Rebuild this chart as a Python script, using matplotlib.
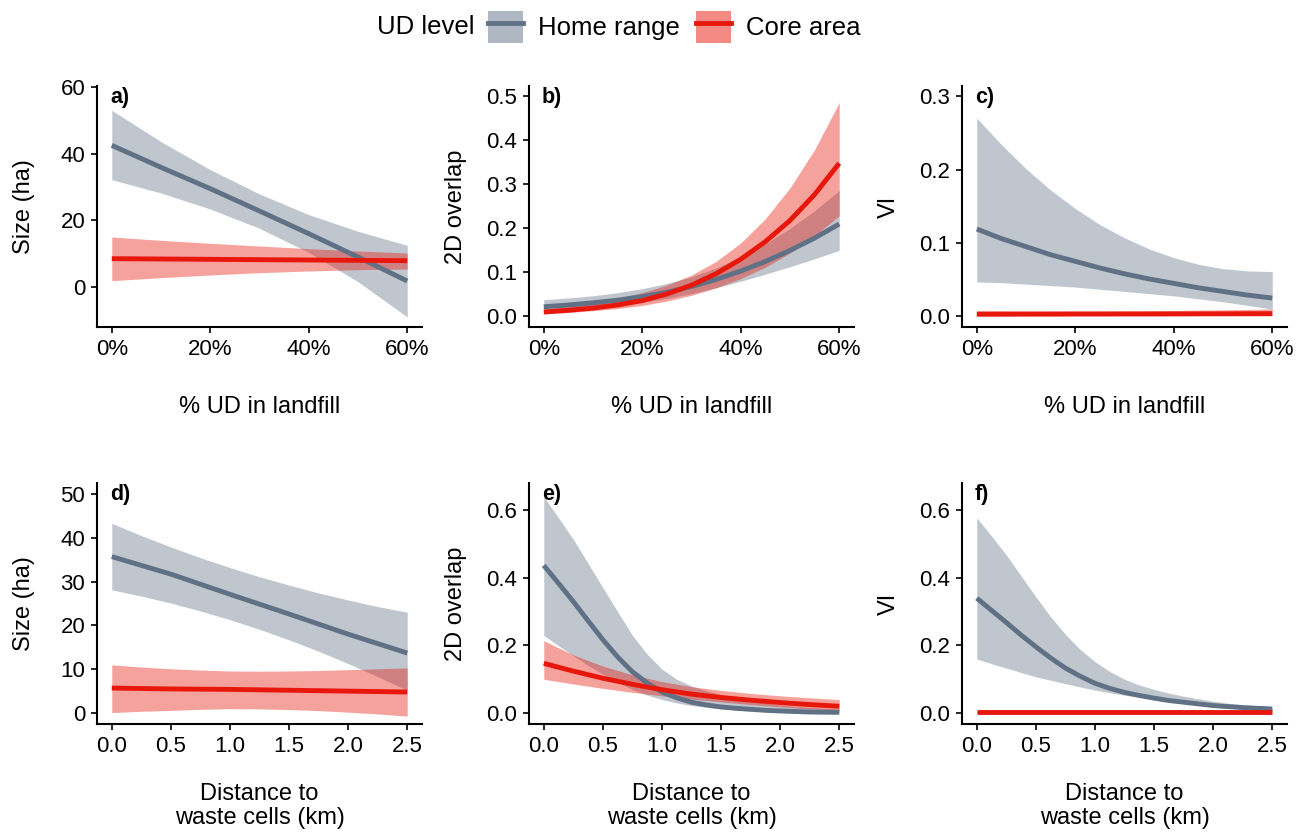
import matplotlib
matplotlib.use('Agg')
import matplotlib.pyplot as plt
from matplotlib.patches import Patch
from matplotlib.lines import Line2D
from matplotlib.ticker import FuncFormatter

plt.rcParams['font.family'] = ['Liberation Sans', 'DejaVu Sans']

# ---------------- data ----------------
series_names = ['Home range', 'Core area']
legend_title = 'UD level'

# x grids
udpct7 = [0, 10, 20, 30, 40, 50, 60]
udpct13 = [0, 5, 10, 15, 20, 25, 30, 35, 40, 45, 50, 55, 60]
dist11 = [0.0, 0.25, 0.5, 0.75, 1.0, 1.25, 1.5, 1.75, 2.0, 2.25, 2.5]
dist21 = [0.0, 0.125, 0.25, 0.375, 0.5, 0.625, 0.75, 0.875, 1.0, 1.125, 1.25,
          1.375, 1.5, 1.625, 1.75, 1.875, 2.0, 2.125, 2.25, 2.375, 2.5]

# a) Size vs % UD in landfill
a_home = [42.5, 35.9, 29.5, 22.8, 16.0, 9.0, 1.8]
a_home_hi = [53.0, 43.6, 35.2, 27.9, 21.7, 16.7, 12.5]
a_home_lo = [32.2, 28.2, 23.4, 17.6, 10.4, 1.6, -9.0]
a_core = [8.5, 8.4, 8.3, 8.2, 8.1, 8.0, 7.9]
a_core_hi = [15.0, 14.0, 13.1, 12.3, 11.5, 10.8, 10.2]
a_core_lo = [1.9, 2.8, 3.6, 4.3, 4.8, 5.2, 5.4]

# b) 2D overlap vs % UD in landfill
b_home = [0.022, 0.026, 0.031, 0.037, 0.045, 0.055, 0.068, 0.084, 0.103, 0.125, 0.150, 0.178, 0.210]
b_home_hi = [0.038, 0.042, 0.047, 0.054, 0.063, 0.075, 0.090, 0.110, 0.135, 0.165, 0.200, 0.240, 0.286]
b_home_lo = [0.013, 0.016, 0.020, 0.025, 0.032, 0.041, 0.052, 0.065, 0.080, 0.096, 0.113, 0.131, 0.150]
b_core = [0.010, 0.014, 0.019, 0.026, 0.036, 0.051, 0.071, 0.097, 0.130, 0.170, 0.218, 0.277, 0.348]
b_core_hi = [0.017, 0.023, 0.031, 0.041, 0.054, 0.071, 0.094, 0.125, 0.167, 0.222, 0.292, 0.379, 0.486]
b_core_lo = [0.006, 0.009, 0.013, 0.018, 0.025, 0.035, 0.048, 0.065, 0.086, 0.112, 0.144, 0.183, 0.229]

# c) VI vs % UD in landfill
c_home = [0.119, 0.106, 0.095, 0.084, 0.075, 0.066, 0.058, 0.051, 0.045, 0.039, 0.034, 0.029, 0.025]
c_home_hi = [0.270, 0.234, 0.201, 0.172, 0.147, 0.125, 0.107, 0.092, 0.080, 0.071, 0.065, 0.062, 0.061]
c_home_lo = [0.047, 0.046, 0.044, 0.042, 0.040, 0.037, 0.034, 0.031, 0.028, 0.024, 0.020, 0.015, 0.010]
c_core = [0.0030, 0.0030, 0.0031, 0.0031, 0.0032, 0.0032, 0.0033, 0.0033, 0.0034, 0.0035, 0.0036, 0.0037, 0.0038]
c_core_hi = [0.0080, 0.0079, 0.0078, 0.0078, 0.0077, 0.0077, 0.0078, 0.0079, 0.0082, 0.0085, 0.0090, 0.0096, 0.0102]
c_core_lo = [0.0010, 0.0011, 0.0012, 0.0012, 0.0013, 0.0013, 0.0013, 0.0013, 0.0012, 0.0011, 0.0010, 0.0009, 0.0008]

# d) Size vs distance to waste cells
d_home = [35.7, 33.7, 31.7, 29.4, 27.1, 24.85, 22.6, 20.3, 18.0, 15.85, 13.7]
d_home_hi = [43.3, 40.5, 37.9, 35.45, 33.2, 31.1, 29.2, 27.4, 25.8, 24.3, 23.0]
d_home_lo = [28.1, 26.7, 25.1, 23.3, 21.3, 19.1, 16.7, 14.1, 11.3, 8.3, 5.2]
d_core = [5.7, 5.6, 5.5, 5.45, 5.4, 5.3, 5.2, 5.1, 5.0, 4.9, 4.8]
d_core_hi = [11.0, 10.5, 10.1, 9.8, 9.6, 9.55, 9.6, 9.7, 9.9, 10.1, 10.3]
d_core_lo = [0.1, 0.4, 0.6, 0.85, 1.0, 0.95, 0.8, 0.55, 0.2, -0.2, -0.7]

# e) 2D overlap vs distance to waste cells
e_home = [0.437, 0.384, 0.330, 0.273, 0.217, 0.166, 0.122, 0.089, 0.062, 0.045, 0.032,
          0.024, 0.018, 0.014, 0.011, 0.008, 0.006, 0.0045, 0.003, 0.0025, 0.002]
e_home_hi = [0.640, 0.578, 0.514, 0.443, 0.371, 0.300, 0.230, 0.174, 0.130, 0.100, 0.080,
             0.066, 0.055, 0.045, 0.036, 0.029, 0.024, 0.020, 0.017, 0.014, 0.012]
e_home_lo = [0.230, 0.199, 0.170, 0.141, 0.115, 0.091, 0.070, 0.053, 0.040, 0.030, 0.022,
             0.017, 0.012, 0.009, 0.006, 0.0045, 0.003, 0.002, 0.0015, 0.001, 0.0005]
e_core = [0.147, 0.124, 0.103, 0.085, 0.069, 0.056, 0.046, 0.038, 0.031, 0.025, 0.020]
e_core_hi = [0.214, 0.172, 0.139, 0.113, 0.093, 0.078, 0.067, 0.058, 0.051, 0.045, 0.040]
e_core_lo = [0.100, 0.086, 0.073, 0.061, 0.051, 0.041, 0.033, 0.025, 0.018, 0.012, 0.008]

# f) VI vs distance to waste cells
f_home = [0.340, 0.304, 0.268, 0.231, 0.196, 0.163, 0.133, 0.109, 0.088, 0.073, 0.061,
          0.052, 0.044, 0.037, 0.032, 0.027, 0.022, 0.019, 0.016, 0.014, 0.012]
f_home_hi = [0.578, 0.524, 0.468, 0.406, 0.344, 0.285, 0.233, 0.188, 0.152, 0.123, 0.100,
             0.083, 0.070, 0.059, 0.050, 0.042, 0.035, 0.029, 0.025, 0.021, 0.018]
f_home_lo = [0.160, 0.146, 0.133, 0.120, 0.107, 0.097, 0.087, 0.077, 0.068, 0.060, 0.053,
             0.047, 0.041, 0.035, 0.029, 0.024, 0.019, 0.015, 0.012, 0.010, 0.008]
f_core = [0.002, 0.002, 0.002, 0.002, 0.002, 0.002, 0.002, 0.002, 0.002, 0.002, 0.002]
f_core_hi = [0.0035, 0.0035, 0.0035, 0.0035, 0.0035, 0.0035, 0.0035, 0.0035, 0.0035, 0.0035, 0.0035]
f_core_lo = [0.0008, 0.0008, 0.0008, 0.0008, 0.0008, 0.0008, 0.0008, 0.0008, 0.0008, 0.0008, 0.0008]

# axis ticks / labels
pct_ticks = [0, 20, 40, 60]
dist_ticks = [0.0, 0.5, 1.0, 1.5, 2.0, 2.5]
size_ticks_a = [0, 20, 40, 60]
overlap_ticks_b = [0.0, 0.1, 0.2, 0.3, 0.4, 0.5]
vi_ticks_c = [0.0, 0.1, 0.2, 0.3]
size_ticks_d = [0, 10, 20, 30, 40, 50]
overlap_ticks_e = [0.0, 0.2, 0.4, 0.6]
vi_ticks_f = [0.0, 0.2, 0.4, 0.6]
tags = ['a)', 'b)', 'c)', 'd)', 'e)', 'f)']
xlab_top = '% UD in landfill'
xlab_bottom = 'Distance to\nwaste cells (km)'
ylab_size = 'Size (ha)'
ylab_overlap = '2D overlap'
ylab_vi = 'VI'

# ---------------- style ----------------
home_col = '#607186'
core_col = '#E8170B'
band_alpha = 0.4
W, H = 1309, 832

fig = plt.figure(figsize=(W / 100, H / 100), dpi=100)

col_lefts = [97, 529, 962]
col_width = 325
row_tops = [86, 483]
row_height = 241

panels = [
    (udpct7, a_home, a_home_lo, a_home_hi, udpct7, a_core, a_core_lo, a_core_hi,
     (-3, 63), (-12.0, 60.3), pct_ticks, size_ticks_a, ylab_size, 'pct', '{:.0f}'),
    (udpct13, b_home, b_home_lo, b_home_hi, udpct13, b_core, b_core_lo, b_core_hi,
     (-3, 63), (-0.024, 0.5235), pct_ticks, overlap_ticks_b, ylab_overlap, 'pct', '{:.1f}'),
    (udpct13, c_home, c_home_lo, c_home_hi, udpct13, c_core, c_core_lo, c_core_hi,
     (-3, 63), (-0.0144, 0.3137), pct_ticks, vi_ticks_c, ylab_vi, 'pct', '{:.1f}'),
    (dist11, d_home, d_home_lo, d_home_hi, dist11, d_core, d_core_lo, d_core_hi,
     (-0.125, 2.625), (-2.5, 52.5), dist_ticks, size_ticks_d, ylab_size, 'dist', '{:.0f}'),
    (dist21, e_home, e_home_lo, e_home_hi, dist11, e_core, e_core_lo, e_core_hi,
     (-0.125, 2.625), (-0.0325, 0.681), dist_ticks, overlap_ticks_e, ylab_overlap, 'dist', '{:.1f}'),
    (dist21, f_home, f_home_lo, f_home_hi, dist11, f_core, f_core_lo, f_core_hi,
     (-0.125, 2.625), (-0.0325, 0.681), dist_ticks, vi_ticks_f, ylab_vi, 'dist', '{:.1f}'),
]

for i, p in enumerate(panels):
    (xh, yh, lh, hh, xc, yc, lc, hc, xlim, ylim, xt, yt, ylab, kind, yfmt) = p
    r, c = divmod(i, 3)
    left = col_lefts[c] / W
    bottom = 1 - (row_tops[r] + row_height) / H
    ax = fig.add_axes([left, bottom, col_width / W, row_height / H])

    ax.fill_between(xh, lh, hh, color=home_col, alpha=band_alpha, lw=0, zorder=1)
    ax.fill_between(xc, lc, hc, color=core_col, alpha=band_alpha, lw=0, zorder=2)
    ax.plot(xh, yh, color=home_col, lw=3.5, solid_capstyle='butt',
            solid_joinstyle='round', zorder=3)
    ax.plot(xc, yc, color=core_col, lw=3.5, solid_capstyle='butt',
            solid_joinstyle='round', zorder=4)

    ax.set_xlim(*xlim)
    ax.set_ylim(*ylim)
    ax.set_xticks(xt)
    ax.set_yticks(yt)
    if kind == 'pct':
        ax.xaxis.set_major_formatter(FuncFormatter(lambda v, pos: f'{v:.0f}%'))
    else:
        ax.xaxis.set_major_formatter(FuncFormatter(lambda v, pos: f'{v:.1f}'))
    ax.yaxis.set_major_formatter(FuncFormatter(lambda v, pos, f=yfmt: f.format(v)))

    for s in ['top', 'right']:
        ax.spines[s].set_visible(False)
    for s in ['left', 'bottom']:
        ax.spines[s].set_linewidth(1.5)
        ax.spines[s].set_color('black')
    ax.tick_params(axis='both', which='major', length=4.5, width=1.2,
                   labelsize=16, colors='black', pad=4)

    ax.set_ylabel(ylab, fontsize=17)
    ax.yaxis.set_label_coords(-0.19, 0.5)
    if r == 0:
        ax.set_xlabel(xlab_top, fontsize=17)
        ax.xaxis.set_label_coords(0.5, -0.285)
    else:
        ax.set_xlabel(xlab_bottom, fontsize=17, linespacing=1.1)
        ax.xaxis.set_label_coords(0.5, -0.245)

    ax.text(0.04, 0.995, tags[i], transform=ax.transAxes, ha='left', va='top',
            fontsize=15.5, fontweight='bold', zorder=5)

# legend at top
handles = [
    (Patch(facecolor=home_col, alpha=0.5, edgecolor='none'),
     Line2D([], [], color=home_col, lw=3.5)),
    (Patch(facecolor=core_col, alpha=0.5, edgecolor='none'),
     Line2D([], [], color=core_col, lw=3.5)),
]
fig.legend(handles, series_names, ncol=2, loc='center left',
           bbox_to_anchor=(488 / W, 1 - 27 / H), frameon=False, fontsize=18.5,
           handlelength=1.36, handleheight=1.48, handletextpad=0.6,
           columnspacing=0.6, borderpad=0, borderaxespad=0)
fig.text(377 / W, 1 - 27 / H, legend_title, ha='left', va='center', fontsize=18.5)

fig.savefig('out.png', dpi=100)
